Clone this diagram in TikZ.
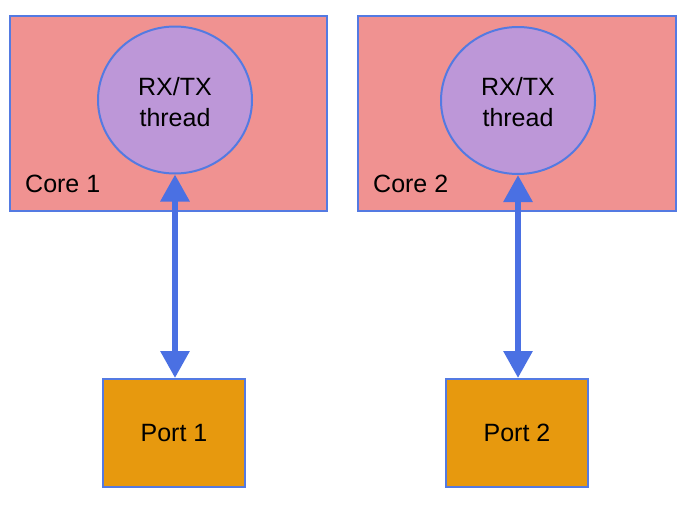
\documentclass[tikz,border=0pt]{standalone}
\usepackage{fontspec}
\setmainfont{Liberation Sans}
\usetikzlibrary{shapes.geometric,arrows.meta}
\definecolor{corefill}{RGB}{240,146,145}
\definecolor{threadfill}{RGB}{189,151,216}
\definecolor{portfill}{RGB}{231,153,14}
\definecolor{edgeblue}{RGB}{84,122,226}
\definecolor{arrowblue}{RGB}{74,112,227}
\tikzset{
  corebox/.style={draw=edgeblue, fill=corefill, line width=2pt, rectangle, minimum width=317pt, minimum height=195pt, inner sep=0pt},
  threadnode/.style={draw=edgeblue, fill=threadfill, line width=2pt, ellipse, minimum width=154pt, minimum height=147pt, inner sep=0pt},
  threadtext/.style={inner sep=0pt, align=center, font=\fontsize{25}{30.5}\selectfont},
  portbox/.style={draw=edgeblue, fill=portfill, line width=2pt, rectangle, minimum width=142pt, minimum height=108pt, inner sep=0pt, font=\fontsize{25}{30}\selectfont},
  corelabel/.style={inner sep=0pt, anchor=base west, font=\fontsize{25}{30}\selectfont},
  link/.style={arrowblue, line width=6pt, {Triangle[length=27pt,width=28pt]}-{Triangle[length=27pt,width=28pt]}}
}
\begin{document}
\begin{tikzpicture}[x=1pt,y=-1pt]
\useasboundingbox (0,0) rectangle (687,517);
\node[corebox] (core1) at (168.5,113.5) {};
\node[corebox, minimum width=318pt] (core2) at (517,113.5) {};
\node[threadnode] (t1) at (175,100) {};
\node[threadnode] (t2) at (518,100.5) {};
\node[threadtext, anchor=base] (tt1) at (175,126) {RX/TX\\thread};
\node[threadtext, anchor=base] (tt2) at (518,126) {RX/TX\\thread};
\node[corelabel] (l1) at (25,192.5) {Core 1};
\node[corelabel] (l2) at (373,192.5) {Core 2};
\node[portbox] (p1) at (174,433) {Port 1};
\node[portbox] (p2) at (517,433) {Port 2};
\draw[link] (p1.north -| t1.south) -- (t1.south);
\draw[link] (p2.north -| t2.south) -- (t2.south);
\end{tikzpicture}
\end{document}
